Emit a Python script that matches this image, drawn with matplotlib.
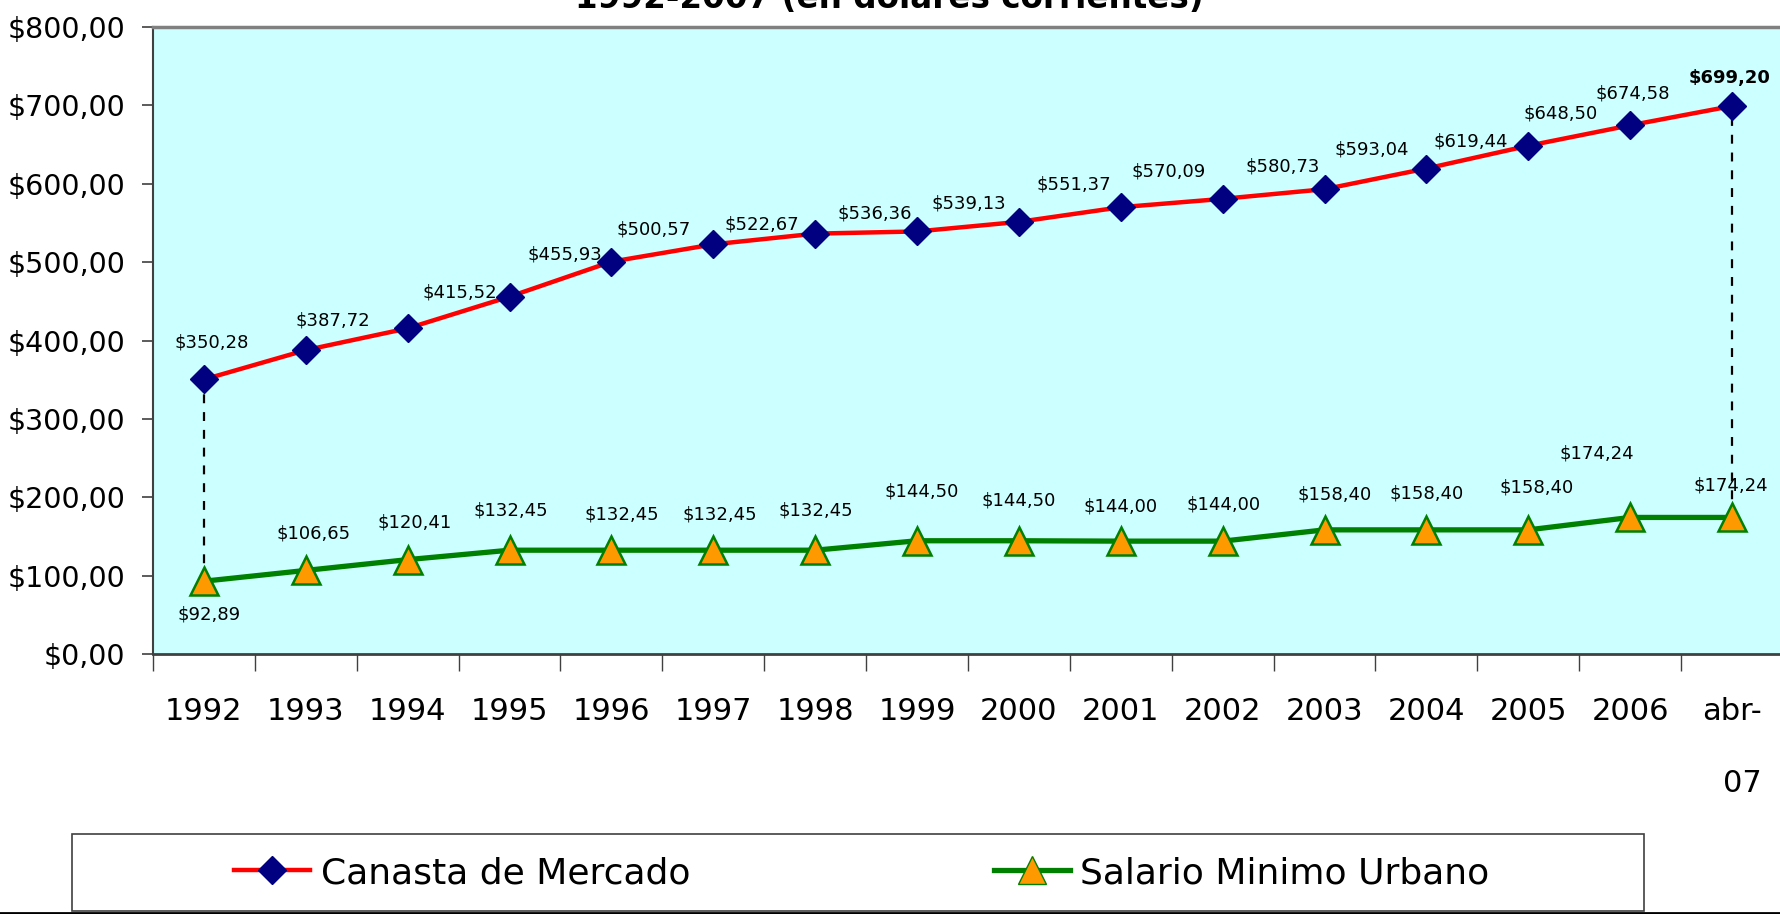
import numpy as np
import matplotlib.pyplot as plt
from matplotlib.patches import Rectangle
from matplotlib.lines import Line2D

years = ["1992", "1993", "1994", "1995", "1996", "1997", "1998", "1999",
         "2000", "2001", "2002", "2003", "2004", "2005", "2006", "abr-\n07"]
canasta = [350.28, 387.72, 415.52, 455.93, 500.57, 522.67, 536.36, 539.13,
           551.37, 570.09, 580.73, 593.04, 619.44, 648.50, 674.58, 699.20]
salario = [92.89, 106.65, 120.41, 132.45, 132.45, 132.45, 132.45, 144.50,
           144.50, 144.00, 144.00, 158.40, 158.40, 158.40, 174.24, 174.24]
y_ticks = [0, 100, 200, 300, 400, 500, 600, 700, 800]

# label offsets in pixels (dx, dy)
canasta_off = [(8, 37), (27, 30), (52, 36), (55, 42), (42, 32), (49, 20),
               (60, 20), (52, 28), (55, 37), (48, 36), (60, 32), (47, 40),
               (44, 27), (32, 32), (3, 32), (-2, 28)]
salario_off = [(5, -33), (8, 37), (7, 37), (1, 40), (10, 36), (7, 36),
               (1, 40), (5, 49), (0, 40), (0, 35), (1, 37), (10, 35),
               (0, 36), (8, 42), (-33, 64), (-1, 32)]


def money(v):
    return "$" + f"{v:.2f}".replace(".", ",")


W, H = 1781, 914
fig = plt.figure(figsize=(W / 100, H / 100), dpi=100)
plt.rcParams["font.family"] = ["DejaVu Sans"]

ax = fig.add_axes([153 / W, (H - 654) / H, (1783 - 153) / W, (654 - 27) / H])
ax.set_facecolor("#CCFFFF")
x = np.arange(len(years))

ax.vlines([x[0], x[-1]], [salario[0], salario[-1]], [canasta[0], canasta[-1]],
          colors="black", linestyles=(0, (4, 4)), linewidth=1.6, zorder=2)
ax.plot(x, canasta, color="red", linewidth=3.2, marker="D", markersize=14,
        markerfacecolor="#000080", markeredgecolor="#000080", zorder=3,
        label="Canasta de Mercado")
ax.plot(x, salario, color="#008000", linewidth=3.8, marker="^", markersize=20,
        markerfacecolor="#FF9900", markeredgecolor="#008000",
        markeredgewidth=1.8, zorder=3, label="Salario Minimo Urbano")

for i, v in enumerate(canasta):
    ax.annotate(money(v), (x[i], v), xytext=canasta_off[i],
                textcoords="offset pixels", ha="center", va="center",
                fontsize=13, fontweight="bold" if i == len(canasta) - 1 else "normal",
                zorder=4, annotation_clip=False)
for i, v in enumerate(salario):
    ax.annotate(money(v), (x[i], v), xytext=salario_off[i],
                textcoords="offset pixels", ha="center", va="center",
                fontsize=13, zorder=4)

ax.set_xlim(-0.5, len(years) - 0.5)
ax.set_ylim(0, 800)
ax.set_yticks(y_ticks)
ax.set_yticklabels([money(v) for v in y_ticks], fontsize=20.5)
ax.tick_params(axis="y", length=8, width=1.2, pad=12, color="#404040")

ax.set_xticks(np.arange(len(years) + 1) - 0.5)
ax.set_xticklabels([])
ax.tick_params(axis="x", which="major", length=12, width=1, color="#404040")
ax.set_xticks(x, minor=True)
ax.set_xticklabels(years, minor=True, fontsize=22, linespacing=2.85,
                   va="top", multialignment="right")
ax.tick_params(axis="x", which="minor", length=0, pad=31)

ax.spines["top"].set_color("#808080")
ax.spines["top"].set_linewidth(2.5)
ax.spines["left"].set_color("#404040")
ax.spines["left"].set_linewidth(1.5)
ax.spines["bottom"].set_color("#404040")
ax.spines["bottom"].set_linewidth(2)
ax.spines["right"].set_visible(False)

# title is cut off at the top edge in the original
fig.text(889 / W, 1 - 8 / H, "1992-2007 (en dolares corrientes)",
         ha="center", va="baseline", fontsize=23.5, fontweight="bold")

# legend box
fig.patches.append(Rectangle((72 / W, (H - 911) / H), (1644 - 72) / W, 77 / H,
                             transform=fig.transFigure, fill=False,
                             edgecolor="#404040", linewidth=1.2))
handles = [
    Line2D([], [], color="red", linewidth=3.2, marker="D", markersize=14,
           markerfacecolor="#000080", markeredgecolor="#000080"),
    Line2D([], [], color="#008000", linewidth=3.8, marker="^", markersize=20,
           markerfacecolor="#FF9900", markeredgecolor="#008000"),
]
fig.legend(handles, ["Canasta de Mercado", "Salario Minimo Urbano"],
           loc="center", bbox_to_anchor=(862 / W, (H - 873) / H), ncol=2,
           frameon=False, fontsize=26, handlelength=2.1, handletextpad=0.3,
           columnspacing=8.4)
fig.add_artist(Line2D([0, 1], [1 / H, 1 / H], transform=fig.transFigure,
                      color="black", linewidth=2))

fig.savefig("out.png", dpi=100)
